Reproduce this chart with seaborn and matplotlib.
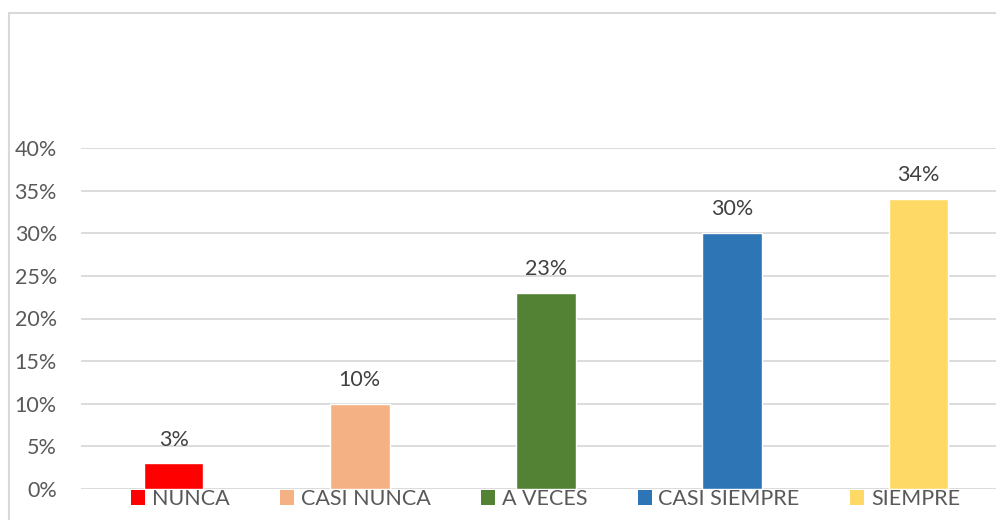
import matplotlib
matplotlib.use("Agg")
import matplotlib.pyplot as plt
import seaborn as sns
import pandas as pd
from matplotlib.patches import Patch
from matplotlib.ticker import PercentFormatter

# data
categories = ["NUNCA", "CASI NUNCA", "A VECES", "CASI SIEMPRE", "SIEMPRE"]
values = [0.03, 0.10, 0.23, 0.30, 0.34]
colors = ["#FF0000", "#F4B183", "#548235", "#2E75B6", "#FFD966"]

df = pd.DataFrame({"Respuesta": categories, "Porcentaje": values})

sns.set_style("white")
plt.rcParams["font.family"] = ["Lato", "DejaVu Sans"]
size = 15.5

fig = plt.figure(figsize=(9.96, 5.2), dpi=100)
# plot area runs a little past the right edge, like the cropped original
ax = fig.add_axes([80.5 / 996, 31 / 520, (1011.5 - 80.5) / 996, (372 - 31) / 520])

palette = dict(zip(categories, colors))
sns.barplot(data=df, x="Respuesta", y="Porcentaje", hue="Respuesta",
            palette=palette, width=0.32, saturation=1, legend=False, ax=ax)

ax.set_ylim(0, 0.40)
ax.set_yticks([i / 100 for i in range(0, 41, 5)])
ax.yaxis.set_major_formatter(PercentFormatter(1.0, decimals=0))
ax.grid(axis="y", color="#d9d9d9", linewidth=1.3)
ax.set_axisbelow(True)
ax.tick_params(axis="y", length=0, labelsize=size, labelcolor="#595959", pad=17)
ax.set_xticks([])
ax.set_xlabel("")
ax.set_ylabel("")
for s in ax.spines.values():
    s.set_visible(False)

# data labels
for c in ax.containers:
    ax.bar_label(c, labels=[f"{v:.0%}" for v in c.datavalues],
                 padding=10, fontsize=size, color="#404040")

# legend at the bottom
handles = [Patch(facecolor=col, edgecolor="none") for col in colors]
fig.legend(handles, categories, loc="center", bbox_to_anchor=(545.5 / 996, 21 / 520),
           ncol=5, frameon=False, fontsize=size, labelcolor="#595959",
           handlelength=0.66, handleheight=0.66, handletextpad=0.3,
           columnspacing=2.35, borderpad=0, borderaxespad=0)

# chart border (cropped on right and bottom)
fig.add_artist(plt.Line2D([9 / 996, 9 / 996], [0, 507 / 520],
                          transform=fig.transFigure, color="#d9d9d9", linewidth=1.5))
fig.add_artist(plt.Line2D([9 / 996, 1], [507 / 520, 507 / 520],
                          transform=fig.transFigure, color="#d9d9d9", linewidth=1.5))

fig.savefig("out.png", dpi=100)
